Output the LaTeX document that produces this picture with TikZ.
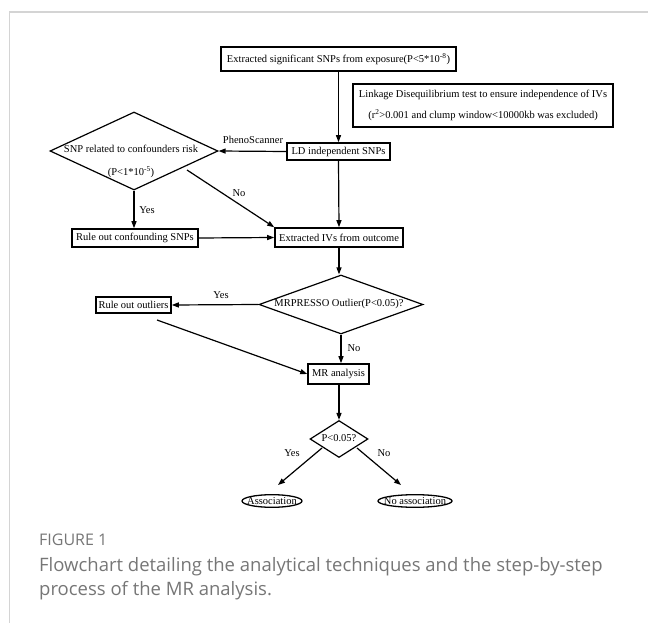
\documentclass[tikz,border=0pt]{standalone}
\usepackage{fontspec}
\setmainfont{Liberation Serif}
\newfontfamily\capfont{Open Sans}
\usetikzlibrary{arrows.meta,shapes.geometric}
\definecolor{framegray}{HTML}{D4D4D4}
\definecolor{capgray}{HTML}{767676}
\tikzset{
  box/.style={draw, line width=1.6pt, rectangle, inner sep=0pt, font=\fontsize{10.5}{12}\selectfont},
  dia/.style={draw, line width=1.2pt, diamond, inner sep=0pt},
  txt/.style={inner sep=0pt, font=\fontsize{10.5}{12}\selectfont},
  ovl/.style={line width=1.3pt},
  conn/.style={line width=1.2pt, -{Triangle[length=7pt,width=5pt]}},
  captxt/.style={anchor=base west, inner sep=0pt, text=capgray},
}
\begin{document}
\begin{tikzpicture}[x=1pt,y=-1pt]
\useasboundingbox (0,0) rectangle (648,623);
% frame
\draw[framegray, line width=1.2pt] (648,12) -- (9.3,12) -- (9.3,623);
% nodes
\node[box, minimum width=235, minimum height=24] (top) at (338.5,59) {Extracted significant SNPs from exposure(P<5*10\textsuperscript{-8})};
\node[box, minimum width=260, minimum height=43, align=center] (ldt) at (483,105.5) {Linkage Disequilibrium test to ensure independence of IVs\\[9pt](r\textsuperscript{2}>0.001 and clump window<10000kb was excluded)};
\node[box, minimum width=103, minimum height=17] (ld) at (338.5,151.5) {LD independent SNPs};
\node[dia, minimum width=168, minimum height=78] (d1) at (134,151) {};
\node[txt] (d1a) at (131,149) {SNP related to confounders risk};
\node[txt] (d1b) at (131,172) {(P<1*10\textsuperscript{-5})};
\node[box, minimum width=126, minimum height=18] (rcs) at (135,238) {Rule out confounding SNPs};
\node[box, minimum width=128, minimum height=19] (ivs) at (339,237.5) {Extracted IVs from outcome};
\node[dia, minimum width=164, minimum height=59] (d2) at (341,304.5) {};
\node[txt] (d2a) at (339,304) {MRPRESSO Outlier(P<0.05)?};
\node[box, minimum width=75, minimum height=16] (outl) at (133.5,305) {Rule out outliers};
\node[box, minimum width=61, minimum height=20] (mr) at (338.5,374) {MR analysis};
\node[dia, minimum width=58, minimum height=37] (d3) at (339,439) {};
\node[txt] (d3a) at (339,438) {P<0.05?};
\node[txt] (assoc) at (272,501) {Association};
\node[txt] (noassoc) at (415,501) {No association};
\draw[ovl] (assoc.center) ellipse [x radius=30, y radius=6.3];
\draw[ovl] (noassoc.center) ellipse [x radius=37, y radius=6.3];
% free coordinates
\coordinate (c1) at (187,170);
\coordinate (c2) at (157,320);
\coordinate (y1) at (322,448);
\coordinate (y2) at (278,485);
\coordinate (n1) at (357,448);
\coordinate (n2) at (401,485);
% connectors
\draw[conn] (top.south -| ld.north) -- (ld.north);
\draw[conn] (ld.west) -- (d1.east);
\node[txt] (lpheno) at (253,140) {PhenoScanner};
\draw[conn] (c1) -- (ivs.north west);
\node[txt] (lno1) at (239,193) {No};
\draw[conn] (d1.south) -- (d1.south |- rcs.north);
\node[txt] (lyes1) at (147,210) {Yes};
\draw[conn] (rcs.east) -- (ivs.west);
\draw[conn] (ld.south) -- (ivs.north);
\draw[conn] (ivs.south) -- (ivs.south |- d2.north);
\draw[conn] (d2.west) -- (outl.east);
\node[txt] (lyes2) at (221,295) {Yes};
\draw[conn] (c2) -- (mr.west);
\draw[conn] (d2.south) -- (d2.south |- mr.north);
\node[txt] (lno2) at (354,348) {No};
\draw[conn] (mr.south -| d3.north) -- (d3.north);
\draw[conn] (y1) -- (y2);
\node[txt] (lyes3) at (292,453) {Yes};
\draw[conn] (n1) -- (n2);
\node[txt] (lno3) at (384,453) {No};
% caption
\node[captxt, font=\capfont\fontsize{16}{18}\selectfont] (fig) at (39,545) {FIGURE 1};
\node[captxt, font=\capfont\fontsize{18.5}{22}\selectfont] (cap1) at (39,571.5) {Flowchart detailing the analytical techniques and the step-by-step};
\node[captxt, font=\capfont\fontsize{18.5}{22}\selectfont] (cap2) at (39,595) {process of the MR analysis.};
\end{tikzpicture}
\end{document}
